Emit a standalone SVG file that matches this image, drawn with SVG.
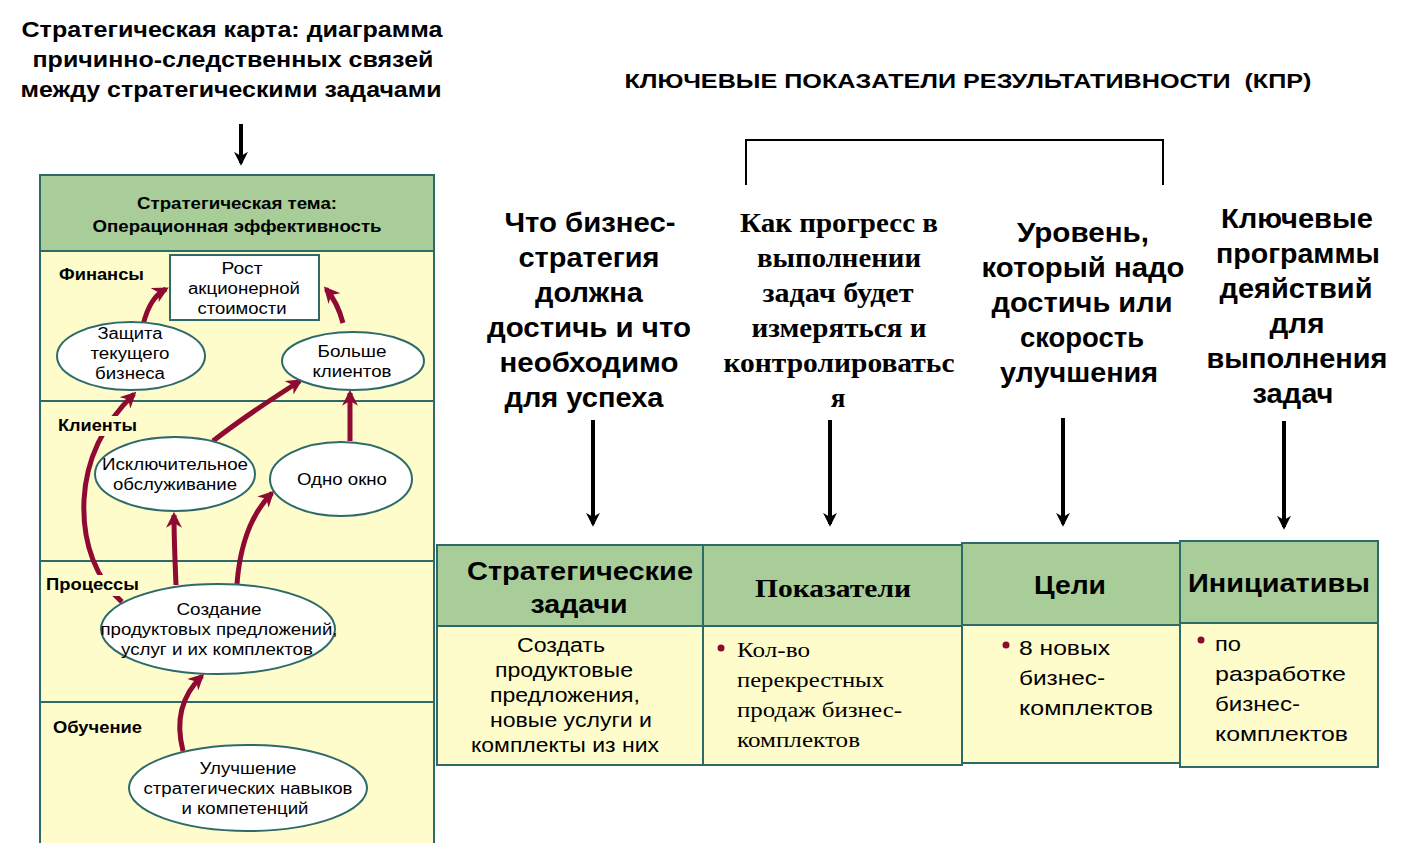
<svg xmlns="http://www.w3.org/2000/svg" width="1414" height="843" viewBox="0 0 1414 843">
<defs>
<style>
text{lengthAdjust:spacingAndGlyphs}
.t{font-family:"Liberation Sans",Arial,sans-serif;fill:#000}
.b{font-weight:bold}
.tm{font-family:"Liberation Serif","Times New Roman",serif;font-weight:bold;fill:#000}
.ts{font-family:"Liberation Serif","Times New Roman",serif;fill:#000}
.grn{fill:#a8cd99;stroke:#2e6a6a;stroke-width:2}
.yel{fill:#fefccb;stroke:#2e6a6a;stroke-width:2}
.ell{fill:#fff;stroke:#2e6a6a;stroke-width:2}
.red{fill:none;stroke:#8f0a32;stroke-width:5;marker-end:url(#ra)}
.blk{fill:none;stroke:#000;stroke-width:4;marker-end:url(#ba)}
.bul{fill:#8f0a32}
</style>
<marker id="ra" viewBox="0 0 10 10" refX="8" refY="5" markerWidth="3.2" markerHeight="3.2" orient="auto" markerUnits="strokeWidth">
<path d="M0,0 L10,5 L0,10 L3,5 Z" fill="#8f0a32"/>
</marker>
<marker id="ba" viewBox="0 0 10 10" refX="8" refY="5" markerWidth="3.5" markerHeight="3.5" orient="auto" markerUnits="strokeWidth">
<path d="M0,0 L10,5 L0,10 L3,5 Z" fill="#000"/>
</marker>
</defs>
<rect width="1414" height="843" fill="#fff"/>

<g id="title-left" class="t b" font-size="22" text-anchor="middle">
<text class="t b" x="232" y="37" textLength="421" lengthAdjust="spacingAndGlyphs">Стратегическая карта: диаграмма</text>
<text class="t b" x="233" y="67" textLength="401" lengthAdjust="spacingAndGlyphs">причинно-следственных связей</text>
<text class="t b" x="231" y="97" textLength="421" lengthAdjust="spacingAndGlyphs">между стратегическими задачами</text>
</g>
<g id="title-right">
<text class="t b" font-size="20" x="968" y="88" text-anchor="middle" xml:space="preserve" textLength="687" lengthAdjust="spacingAndGlyphs">КЛЮЧЕВЫЕ ПОКАЗАТЕЛИ РЕЗУЛЬТАТИВНОСТИ  (КПР)</text>
</g>
<g id="bracket">
<path d="M746,185 V140 H1163 V185" fill="none" stroke="#000" stroke-width="2"/>
</g>

<g id="strategy-map">
<rect class="grn" x="40" y="175" width="394" height="76"/>
<rect class="yel" x="40" y="251" width="394" height="150"/>
<rect class="yel" x="40" y="401" width="394" height="160"/>
<rect class="yel" x="40" y="561" width="394" height="141"/>
<rect class="yel" x="40" y="702" width="394" height="145"/>
<text class="t b" font-size="17" x="237" y="209" text-anchor="middle" textLength="200" lengthAdjust="spacingAndGlyphs">Стратегическая тема:</text>
<text class="t b" font-size="17" x="237" y="232" text-anchor="middle" textLength="289" lengthAdjust="spacingAndGlyphs">Операционная эффективность</text>
<text class="t b" font-size="16" x="59" y="280" textLength="85" lengthAdjust="spacingAndGlyphs">Финансы</text>
<text class="t b" font-size="16" x="53" y="733" textLength="89" lengthAdjust="spacingAndGlyphs">Обучение</text>
</g>

<g id="connectors">
<path class="red" d="M143,325 C148,305 155,295 166,289"/>
<path class="red" d="M343,323 C339,308 334,298 326,289"/>
<path class="red" d="M122,602 C97,580 82,545 84,500 C86,460 102,425 134,394"/>
<path class="red" d="M213,441 C240,420 270,400 300,381"/>
<path class="red" d="M350,441 L350,393"/>
<path class="red" d="M176,585 C175,560 174,540 174,515"/>
<path class="red" d="M237,584 C240,545 250,515 272,493"/>
<path class="red" d="M183,751 C175,720 182,695 202,676"/>
<path class="blk" d="M241,124 V163"/>
<path class="blk" d="M593,420 V524"/>
<path class="blk" d="M830,420 V524"/>
<path class="blk" d="M1063,418 V524"/>
<path class="blk" d="M1284,421 V527"/>
</g>

<g id="label-clients">
<rect x="56" y="416" width="84" height="20" fill="#fefccb"/>
<text class="t b" font-size="16" x="58" y="431" textLength="79" lengthAdjust="spacingAndGlyphs">Клиенты</text>
</g>
<g id="label-processes">
<rect x="44" y="575" width="97" height="21" fill="#fefccb"/>
<text class="t b" font-size="16" x="46" y="590" textLength="93" lengthAdjust="spacingAndGlyphs">Процессы</text>
</g>

<g id="node-rost">
<rect x="170" y="255" width="149" height="65" fill="#fff" stroke="#2e6a6a" stroke-width="2"/>
<text class="t" font-size="16" x="242" y="274" text-anchor="middle" textLength="41" lengthAdjust="spacingAndGlyphs">Рост</text>
<text class="t" font-size="16" x="244" y="294" text-anchor="middle" textLength="112" lengthAdjust="spacingAndGlyphs">акционерной</text>
<text class="t" font-size="16" x="242" y="314" text-anchor="middle" textLength="89" lengthAdjust="spacingAndGlyphs">стоимости</text>
</g>
<g id="node-zashita">
<ellipse class="ell" cx="131" cy="356" rx="74" ry="34"/>
<text class="t" font-size="16" x="130" y="339" text-anchor="middle" textLength="65" lengthAdjust="spacingAndGlyphs">Защита</text>
<text class="t" font-size="16" x="130" y="359" text-anchor="middle" textLength="79" lengthAdjust="spacingAndGlyphs">текущего</text>
<text class="t" font-size="16" x="130" y="379" text-anchor="middle" textLength="70" lengthAdjust="spacingAndGlyphs">бизнеса</text>
</g>
<g id="node-bolshe">
<ellipse class="ell" cx="353" cy="361" rx="71" ry="29"/>
<text class="t" font-size="16" x="352" y="357" text-anchor="middle" textLength="69" lengthAdjust="spacingAndGlyphs">Больше</text>
<text class="t" font-size="16" x="352" y="377" text-anchor="middle" textLength="79" lengthAdjust="spacingAndGlyphs">клиентов</text>
</g>
<g id="node-iskl">
<ellipse class="ell" cx="175" cy="474" rx="80" ry="37"/>
<text class="t" font-size="16" x="175" y="470" text-anchor="middle" textLength="146" lengthAdjust="spacingAndGlyphs">Исключительное</text>
<text class="t" font-size="16" x="175" y="490" text-anchor="middle" textLength="124" lengthAdjust="spacingAndGlyphs">обслуживание</text>
</g>
<g id="node-okno">
<ellipse class="ell" cx="341" cy="479" rx="71" ry="37"/>
<text class="t" font-size="16" x="342" y="485" text-anchor="middle" textLength="90" lengthAdjust="spacingAndGlyphs">Одно окно</text>
</g>
<g id="node-sozdanie">
<ellipse class="ell" cx="218" cy="629" rx="117" ry="45"/>
<text class="t" font-size="16" x="219" y="615" text-anchor="middle" textLength="85" lengthAdjust="spacingAndGlyphs">Создание</text>
<text class="t" font-size="16" x="219" y="635" text-anchor="middle" textLength="237" lengthAdjust="spacingAndGlyphs">продуктовых предложений,</text>
<text class="t" font-size="16" x="217" y="655" text-anchor="middle" textLength="192" lengthAdjust="spacingAndGlyphs">услуг и их комплектов</text>
</g>
<g id="node-uluchshenie">
<ellipse class="ell" cx="248" cy="788" rx="119" ry="43"/>
<text class="t" font-size="16" x="248" y="774" text-anchor="middle" textLength="97" lengthAdjust="spacingAndGlyphs">Улучшение</text>
<text class="t" font-size="16" x="248" y="794" text-anchor="middle" textLength="209" lengthAdjust="spacingAndGlyphs">стратегических навыков</text>
<text class="t" font-size="16" x="245" y="814" text-anchor="middle" textLength="127" lengthAdjust="spacingAndGlyphs">и компетенций</text>
</g>

<g id="q1">
<text class="t b" font-size="28" x="590" y="232" text-anchor="middle" textLength="171" lengthAdjust="spacingAndGlyphs">Что бизнес-</text>
<text class="t b" font-size="28" x="589" y="267" text-anchor="middle" textLength="141" lengthAdjust="spacingAndGlyphs">стратегия</text>
<text class="t b" font-size="28" x="589" y="302" text-anchor="middle" textLength="108" lengthAdjust="spacingAndGlyphs">должна</text>
<text class="t b" font-size="28" x="589" y="337" text-anchor="middle" textLength="204" lengthAdjust="spacingAndGlyphs">достичь и что</text>
<text class="t b" font-size="28" x="589" y="372" text-anchor="middle" textLength="179" lengthAdjust="spacingAndGlyphs">необходимо</text>
<text class="t b" font-size="28" x="584" y="407" text-anchor="middle" textLength="159" lengthAdjust="spacingAndGlyphs">для успеха</text>
</g>
<g id="q2">
<text class="tm" font-size="27" x="839" y="232" text-anchor="middle" textLength="198" lengthAdjust="spacingAndGlyphs">Как прогресс в</text>
<text class="tm" font-size="27" x="839" y="267" text-anchor="middle" textLength="164" lengthAdjust="spacingAndGlyphs">выполнении</text>
<text class="tm" font-size="27" x="838" y="302" text-anchor="middle" textLength="151" lengthAdjust="spacingAndGlyphs">задач будет</text>
<text class="tm" font-size="27" x="839" y="337" text-anchor="middle" textLength="175" lengthAdjust="spacingAndGlyphs">измеряться и</text>
<text class="tm" font-size="27" x="839" y="372" text-anchor="middle" textLength="231" lengthAdjust="spacingAndGlyphs">контролироватьс</text>
<text class="tm" font-size="27" x="838" y="407" text-anchor="middle">я</text>
</g>
<g id="q3">
<text class="t b" font-size="28" x="1083" y="242" text-anchor="middle" textLength="132" lengthAdjust="spacingAndGlyphs">Уровень,</text>
<text class="t b" font-size="28" x="1083" y="277" text-anchor="middle" textLength="203" lengthAdjust="spacingAndGlyphs">который надо</text>
<text class="t b" font-size="28" x="1082" y="312" text-anchor="middle" textLength="181" lengthAdjust="spacingAndGlyphs">достичь или</text>
<text class="t b" font-size="28" x="1082" y="347" text-anchor="middle" textLength="124" lengthAdjust="spacingAndGlyphs">скорость</text>
<text class="t b" font-size="28" x="1079" y="382" text-anchor="middle" textLength="158" lengthAdjust="spacingAndGlyphs">улучшения</text>
</g>
<g id="q4">
<text class="t b" font-size="28" x="1297" y="228" text-anchor="middle" textLength="152" lengthAdjust="spacingAndGlyphs">Ключевые</text>
<text class="t b" font-size="28" x="1298" y="263" text-anchor="middle" textLength="164" lengthAdjust="spacingAndGlyphs">программы</text>
<text class="t b" font-size="28" x="1296" y="298" text-anchor="middle" textLength="153" lengthAdjust="spacingAndGlyphs">деяйствий</text>
<text class="t b" font-size="28" x="1297" y="333" text-anchor="middle" textLength="55" lengthAdjust="spacingAndGlyphs">для</text>
<text class="t b" font-size="28" x="1297" y="368" text-anchor="middle" textLength="181" lengthAdjust="spacingAndGlyphs">выполнения</text>
<text class="t b" font-size="28" x="1293" y="403" text-anchor="middle" textLength="81" lengthAdjust="spacingAndGlyphs">задач</text>
</g>

<g id="col-zadachi">
<rect class="grn" x="437" y="545" width="266" height="81"/>
<rect class="yel" x="437" y="626" width="266" height="139"/>
<text class="t b" font-size="26" x="580" y="580" text-anchor="middle" textLength="226" lengthAdjust="spacingAndGlyphs">Стратегические</text>
<text class="t b" font-size="26" x="579" y="613" text-anchor="middle" textLength="97" lengthAdjust="spacingAndGlyphs">задачи</text>
<text class="t" font-size="20" x="561" y="652" text-anchor="middle" textLength="88" lengthAdjust="spacingAndGlyphs">Создать</text>
<text class="t" font-size="20" x="564" y="677" text-anchor="middle" textLength="138" lengthAdjust="spacingAndGlyphs">продуктовые</text>
<text class="t" font-size="20" x="565" y="702" text-anchor="middle" textLength="150" lengthAdjust="spacingAndGlyphs">предложения,</text>
<text class="t" font-size="20" x="571" y="727" text-anchor="middle" textLength="162" lengthAdjust="spacingAndGlyphs">новые услуги и</text>
<text class="t" font-size="20" x="565" y="752" text-anchor="middle" textLength="188" lengthAdjust="spacingAndGlyphs">комплекты из них</text>
</g>
<g id="col-pokazateli">
<rect class="grn" x="703" y="545" width="259" height="81"/>
<rect class="yel" x="703" y="626" width="259" height="139"/>
<text class="tm" font-size="26" x="833" y="597" text-anchor="middle" textLength="156" lengthAdjust="spacingAndGlyphs">Показатели</text>
<circle class="bul" cx="721" cy="648" r="3.5"/>
<text class="ts" font-size="22" x="737" y="657" textLength="73" lengthAdjust="spacingAndGlyphs">Кол-во</text>
<text class="ts" font-size="22" x="737" y="687" textLength="147" lengthAdjust="spacingAndGlyphs">перекрестных</text>
<text class="ts" font-size="22" x="737" y="717" textLength="165" lengthAdjust="spacingAndGlyphs">продаж бизнес-</text>
<text class="ts" font-size="22" x="737" y="747" textLength="123" lengthAdjust="spacingAndGlyphs">комплектов</text>
</g>
<g id="col-tseli">
<rect class="grn" x="962" y="543" width="218" height="82"/>
<rect class="yel" x="962" y="625" width="218" height="138"/>
<text class="t b" font-size="26" x="1070" y="594" text-anchor="middle" textLength="72" lengthAdjust="spacingAndGlyphs">Цели</text>
<circle class="bul" cx="1006" cy="645" r="3.5"/>
<text class="t" font-size="21" x="1019" y="655" textLength="91" lengthAdjust="spacingAndGlyphs">8 новых</text>
<text class="t" font-size="21" x="1019" y="685" textLength="86" lengthAdjust="spacingAndGlyphs">бизнес-</text>
<text class="t" font-size="21" x="1019" y="715" textLength="134" lengthAdjust="spacingAndGlyphs">комплектов</text>
</g>
<g id="col-initsiativy">
<rect class="grn" x="1180" y="541" width="198" height="82"/>
<rect class="yel" x="1180" y="623" width="198" height="144"/>
<text class="t b" font-size="26" x="1279" y="592" text-anchor="middle" textLength="182" lengthAdjust="spacingAndGlyphs">Инициативы</text>
<circle class="bul" cx="1201" cy="640" r="3.5"/>
<text class="t" font-size="21" x="1215" y="651" textLength="26" lengthAdjust="spacingAndGlyphs">по</text>
<text class="t" font-size="21" x="1215" y="681" textLength="131" lengthAdjust="spacingAndGlyphs">разработке</text>
<text class="t" font-size="21" x="1215" y="711" textLength="85" lengthAdjust="spacingAndGlyphs">бизнес-</text>
<text class="t" font-size="21" x="1215" y="741" textLength="133" lengthAdjust="spacingAndGlyphs">комплектов</text>
</g>
</svg>
